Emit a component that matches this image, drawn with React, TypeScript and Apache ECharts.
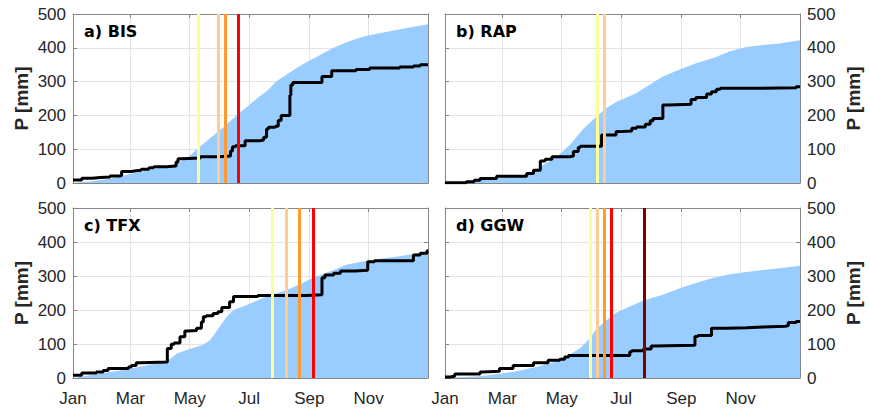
import React, { useEffect, useRef } from 'react';
import * as echarts from 'echarts';

// ---------- data ----------
const monthTickDays = [0, 59, 120, 181, 243, 304, 365];
const monthLabelDays = [0, 59, 120, 181, 243, 304];
const monthLabels = ['Jan', 'Mar', 'May', 'Jul', 'Sep', 'Nov'];
const panelTitles = ['a) BIS', 'b) RAP', 'c) TFX', 'd) GGW'];
const yAxisName = 'P [mm]';

// BIS
const bisClimDays = [0, 20, 40, 60, 80, 100, 110, 120, 127, 135, 145, 155, 168, 180, 190, 200, 209, 220, 230, 240, 250, 260, 268, 280, 290, 300, 315, 330, 345, 365];
const bisClimP = [0, 5, 14, 27, 40, 52, 62, 80, 100, 118, 142, 166, 200, 228, 252, 274, 300, 322, 340, 357, 372, 388, 400, 415, 425, 434, 443, 451, 459, 470];
const bisObsDays = [0, 9, 20, 28, 38, 48, 50, 60, 65, 70, 78, 83, 96, 106, 108, 112, 131, 150, 162, 164, 167, 177, 192, 196, 199, 201, 208, 211, 214, 223, 224, 226, 256, 266, 291, 305, 336, 350, 357, 365];
const bisObsP = [9, 14, 16, 18, 21, 22, 34, 36, 38, 41, 45, 48, 50, 62, 72, 74, 78, 80, 95, 107, 110, 125, 127, 135, 160, 165, 168, 185, 200, 260, 290, 297, 315, 332, 336, 340, 343, 346, 350, 350];
const bisMarkDays = [128.5, 149.4, 156.6, 170];
const bisMarkLevels = [0, 1, 2, 3];

// RAP
const rapClimDays = [0, 53, 84, 98, 115, 129, 142, 156, 166, 176, 186, 196, 207, 224, 245, 259, 276, 293, 310, 327, 344, 365];
const rapClimP = [0, 14, 25, 48, 78, 115, 160, 197, 222, 240, 252, 265, 285, 315, 340, 355, 370, 390, 402, 408, 413, 422];
const rapObsDays = [0, 22, 30, 36, 53, 84, 91, 98, 103, 110, 129, 132, 137, 139, 161, 176, 180, 192, 197, 206, 211, 214, 224, 230, 253, 258, 269, 274, 279, 283, 320, 361, 365];
const rapObsP = [1, 4, 8, 13, 20, 28, 38, 65, 70, 78, 80, 93, 105, 109, 142, 152, 154, 162, 166, 174, 184, 191, 231, 233, 247, 253, 263, 270, 277, 280, 282, 285, 286];
const rapMarkDays = [157, 163.5];
const rapMarkLevels = [0, 1];

// TFX
const tfxClimDays = [0, 28, 55, 69, 89, 97, 107, 120, 134, 141, 148, 158, 165, 179, 199, 219, 233, 247, 268, 281, 302, 319, 336, 365];
const tfxClimP = [0, 13, 25, 33, 45, 50, 72, 85, 98, 112, 140, 180, 200, 215, 240, 258, 275, 295, 318, 333, 345, 352, 358, 372];
const tfxObsDays = [0, 9, 24, 31, 36, 57, 60, 65, 70, 97, 101, 104, 110, 115, 118, 127, 132, 134, 137, 144, 149, 153, 161, 165, 190, 240, 256, 259, 268, 275, 290, 303, 310, 350, 357, 364, 365];
const tfxObsP = [8, 15, 18, 22, 28, 32, 37, 45, 47, 87, 99, 103, 121, 138, 140, 146, 165, 180, 183, 190, 195, 207, 224, 240, 243, 245, 295, 303, 308, 315, 317, 342, 345, 362, 367, 374, 374];
const tfxMarkDays = [205, 219, 232.7, 246.8];
const tfxMarkLevels = [0, 1, 2, 3];

// GGW
const ggwClimDays = [0, 36, 70, 98, 118, 129, 139, 147, 156, 166, 176, 190, 204, 224, 245, 259, 276, 293, 310, 327, 344, 365];
const ggwClimP = [0, 5, 18, 35, 52, 70, 88, 110, 145, 170, 192, 210, 228, 245, 268, 280, 295, 305, 312, 318, 323, 330];
const ggwObsDays = [0, 5, 10, 36, 39, 56, 70, 91, 106, 118, 123, 127, 190, 192, 204, 212, 215, 257, 260, 274, 290, 310, 327, 350, 353, 361, 365];
const ggwObsP = [3, 5, 12, 18, 20, 28, 37, 45, 52, 55, 62, 66, 77, 80, 85, 94, 96, 122, 125, 146, 148, 150, 152, 154, 163, 166, 167];
const ggwMarkDays = [149.4, 156.6, 163.5, 170.7, 205.3];
const ggwMarkLevels = [0, 1, 2, 3, 4];

// ---------- styles ----------
const FONT = 'Liberation Sans';
const TITLE_FONT = 'DejaVu Sans';
const TXT = '#262626';
const AX = '#868686';
const GRIDC = '#e3e3e3';
const AREA = '#99ccff';
const LEVEL_COLORS = ['#ffff99', '#ffcc99', '#ff9933', '#ff0000', '#800000'];

const panels = [
  { climDays: bisClimDays, climP: bisClimP, obsDays: bisObsDays, obsP: bisObsP, markDays: bisMarkDays, markLevels: bisMarkLevels },
  { climDays: rapClimDays, climP: rapClimP, obsDays: rapObsDays, obsP: rapObsP, markDays: rapMarkDays, markLevels: rapMarkLevels },
  { climDays: tfxClimDays, climP: tfxClimP, obsDays: tfxObsDays, obsP: tfxObsP, markDays: tfxMarkDays, markLevels: tfxMarkLevels },
  { climDays: ggwClimDays, climP: ggwClimP, obsDays: ggwObsDays, obsP: ggwObsP, markDays: ggwMarkDays, markLevels: ggwMarkLevels },
];

const layouts = [
  { left: 73, top: 14, width: 355, height: 169, yRight: false, xLabels: false },
  { left: 445, top: 14, width: 355, height: 169, yRight: true, xLabels: false },
  { left: 73, top: 208, width: 355, height: 170, yRight: false, xLabels: true },
  { left: 445, top: 208, width: 355, height: 170, yRight: true, xLabels: true },
];

function buildOption() {
  const grid: any[] = [];
  const xAxis: any[] = [];
  const yAxis: any[] = [];
  const series: any[] = [];
  const graphic: any[] = [];

  layouts.forEach((L, i) => {
    grid.push({ left: L.left, top: L.top, width: L.width, height: L.height });
    const xBase = {
      type: 'value', gridIndex: i, min: 0, max: 365,
      axisLine: { show: true, onZero: false, lineStyle: { color: AX, width: 1 } },
      axisTick: { show: true, inside: true, length: 4, customValues: monthTickDays, lineStyle: { color: AX } },
    };
    xAxis.push({
      ...xBase, position: 'bottom',
      axisLabel: {
        show: L.xLabels, customValues: monthLabelDays,
        formatter: (v: number) => { const k = monthLabelDays.indexOf(Math.round(v)); return k >= 0 ? monthLabels[k] : ''; },
        color: TXT, fontFamily: FONT, fontSize: 17, margin: 12,
      },
      splitLine: { show: true, lineStyle: { color: GRIDC, width: 1 } },
    });
    xAxis.push({ ...xBase, position: 'top', axisLabel: { show: false }, splitLine: { show: false } });

    const yBase = {
      type: 'value', gridIndex: i, min: 0, max: 500, interval: 100,
      axisLine: { show: true, onZero: false, lineStyle: { color: AX, width: 1 } },
      axisTick: { show: true, inside: true, length: 4, lineStyle: { color: AX } },
    };
    const nameProps = {
      name: yAxisName, nameLocation: 'middle',
      nameTextStyle: { fontFamily: FONT, fontSize: 19, fontWeight: 'bold', color: TXT },
    };
    const labelProps = { color: TXT, fontFamily: FONT, fontSize: 17, margin: 7 };
    yAxis.push({
      ...yBase, position: 'left',
      axisLabel: { show: !L.yRight, ...labelProps },
      splitLine: { show: true, lineStyle: { color: GRIDC, width: 1 } },
      ...(L.yRight ? {} : { ...nameProps, nameGap: 42 }),
    });
    yAxis.push({
      ...yBase, position: 'right',
      axisLabel: { show: L.yRight, ...labelProps },
      splitLine: { show: false },
      ...(L.yRight ? { ...nameProps, nameGap: 44 } : {}),
    });

    const P = panels[i];
    series.push({
      type: 'line', xAxisIndex: 2 * i, yAxisIndex: 2 * i,
      data: P.climDays.map((d, k) => [d, P.climP[k]]),
      symbol: 'none', lineStyle: { width: 0 }, areaStyle: { color: AREA, opacity: 1 },
      z: 1, silent: true,
      markLine: {
        symbol: ['none', 'none'], silent: true, label: { show: false },
        data: P.markDays.map((d, k) => ({ xAxis: d, lineStyle: { color: LEVEL_COLORS[P.markLevels[k]], width: 3, type: 'solid' } })),
      },
    });
    series.push({
      type: 'line', xAxisIndex: 2 * i, yAxisIndex: 2 * i, step: 'end',
      data: P.obsDays.map((d, k) => [d, P.obsP[k]]),
      symbol: 'none', lineStyle: { color: '#000', width: 3 }, z: 3, silent: true,
    });

    graphic.push({
      type: 'text', x: L.left + 11, y: L.top + 17, z: 20,
      style: { text: panelTitles[i], fill: '#000', font: `bold 16px "${TITLE_FONT}"`, align: 'left', verticalAlign: 'middle', textVerticalAlign: 'middle' },
    });
  });

  return { animation: false, backgroundColor: '#fff', grid, xAxis, yAxis, series, graphic };
}

export default function App() {
  const ref = useRef<HTMLDivElement>(null);
  useEffect(() => {
    document.body.style.margin = '0';
    const chart = echarts.init(ref.current!, undefined, { renderer: 'svg' });
    chart.setOption(buildOption() as any);
    return () => chart.dispose();
  }, []);
  return <div ref={ref} style={{ width: 870, height: 409 }} />;
}
